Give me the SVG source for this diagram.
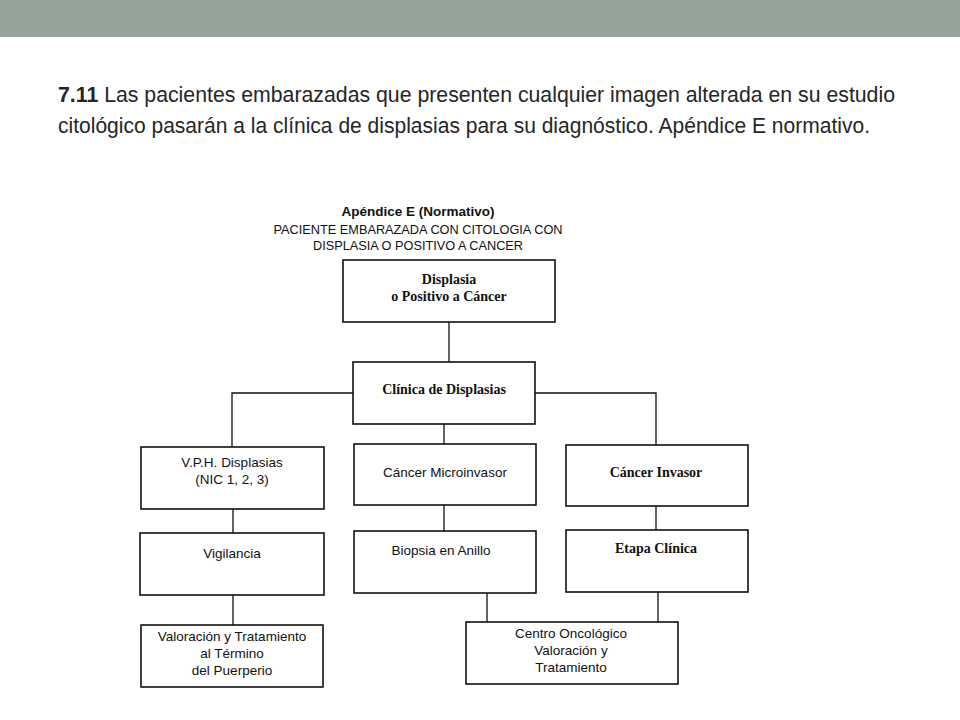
<svg xmlns="http://www.w3.org/2000/svg" width="960" height="720" viewBox="0 0 960 720">
<style>
.box{fill:#fff;stroke:#111;stroke-width:1.6}
.ln{fill:none;stroke:#111;stroke-width:1.3}
.s{font-family:"Liberation Sans",Arial,sans-serif;font-size:13.5px;fill:#111;text-anchor:middle}
.b{font-family:"Liberation Serif","Times New Roman",serif;font-size:14px;font-weight:bold;fill:#111;text-anchor:middle}
.t{font-family:"Liberation Sans",Arial,sans-serif;font-size:22.5px;fill:#262626}
</style>
<rect x="0" y="0" width="960" height="37" fill="#94a39a"/>
<g id="title">
<text class="t" x="58" y="102" textLength="837" lengthAdjust="spacingAndGlyphs"><tspan font-weight="bold">7.11</tspan> Las pacientes embarazadas que presenten cualquier imagen alterada en su estudio</text>
<text class="t" x="58" y="133" textLength="812" lengthAdjust="spacingAndGlyphs">citológico pasarán a la clínica de displasias para su diagnóstico. Apéndice E normativo.</text>
</g>
<g id="header">
<text class="s" x="418" y="216" font-size="12" font-weight="bold">Apéndice E (Normativo)</text>
<text class="s" x="418" y="234" textLength="289" lengthAdjust="spacingAndGlyphs">PACIENTE EMBARAZADA CON CITOLOGIA CON</text>
<text class="s" x="418" y="250" textLength="210" lengthAdjust="spacingAndGlyphs">DISPLASIA O POSITIVO A CANCER</text>
</g>
<g id="connectors">
<path class="ln" d="M449 322V362"/>
<path class="ln" d="M353 393H232V447"/>
<path class="ln" d="M535 393H656V445"/>
<path class="ln" d="M444 424V444"/>
<path class="ln" d="M233 509V533"/>
<path class="ln" d="M444 505V531"/>
<path class="ln" d="M656 506V530"/>
<path class="ln" d="M233 595V625"/>
<path class="ln" d="M487 593V622"/>
<path class="ln" d="M658 592V622"/>
</g>
<g id="n-displasia">
<rect class="box" x="343" y="260" width="212" height="62"/>
<text class="b" x="449" y="284">Displasia</text>
<text class="b" x="449" y="301">o Positivo a Cáncer</text>
</g>
<g id="n-clinica">
<rect class="box" x="353" y="362" width="182" height="62"/>
<text class="b" x="444" y="394">Clínica de Displasias</text>
</g>
<g id="n-vph">
<rect class="box" x="141" y="447" width="183" height="62"/>
<text class="s" x="232" y="467">V.P.H. Displasias</text>
<text class="s" x="232" y="484">(NIC 1, 2, 3)</text>
</g>
<g id="n-micro">
<rect class="box" x="354" y="444" width="182" height="61"/>
<text class="s" x="445" y="477">Cáncer Microinvasor</text>
</g>
<g id="n-invasor">
<rect class="box" x="566" y="445" width="182" height="61"/>
<text class="b" x="656" y="477">Cáncer Invasor</text>
</g>
<g id="n-vigilancia">
<rect class="box" x="140" y="533" width="184" height="62"/>
<text class="s" x="232" y="558">Vigilancia</text>
</g>
<g id="n-biopsia">
<rect class="box" x="354" y="531" width="182" height="62"/>
<text class="s" x="441" y="555">Biopsia en Anillo</text>
</g>
<g id="n-etapa">
<rect class="box" x="566" y="530" width="182" height="62"/>
<text class="b" x="656" y="553">Etapa Clínica</text>
</g>
<g id="n-valoracion">
<rect class="box" x="141" y="625" width="182" height="62"/>
<text class="s" x="232" y="641">Valoración y Tratamiento</text>
<text class="s" x="232" y="658">al Término</text>
<text class="s" x="232" y="675">del Puerperio</text>
</g>
<g id="n-centro">
<rect class="box" x="466" y="622" width="212" height="62"/>
<text class="s" x="571" y="638">Centro Oncológico</text>
<text class="s" x="571" y="655">Valoración y</text>
<text class="s" x="571" y="672">Tratamiento</text>
</g>
</svg>
